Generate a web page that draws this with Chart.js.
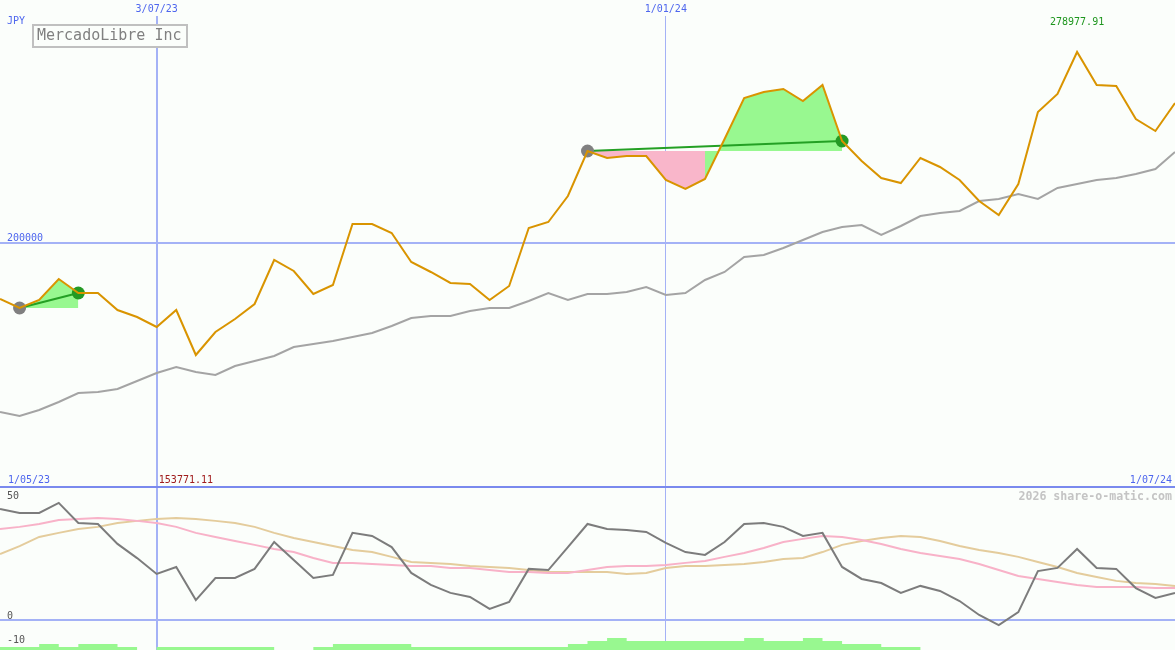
<!DOCTYPE html>
<html>
<head>
<meta charset="utf-8">
<title>MercadoLibre Inc</title>
<script src="https://cdn.jsdelivr.net/npm/chart.js@4.4.0/dist/chart.umd.min.js"></script>
<style>
html,body{margin:0;padding:0;background:#fbfefb;}
canvas{display:block;}
</style>
</head>
<body>
<canvas id="shareChart" width="1175" height="650"></canvas>
<script>
/* =====================================
   DATA (weekly, JPY)
===================================== */

const weeks = [
    "8/05/23","15/05/23","22/05/23","29/05/23","5/06/23","12/06/23","19/06/23","26/06/23",
    "3/07/23","10/07/23","17/07/23","24/07/23","31/07/23","7/08/23","14/08/23","21/08/23",
    "28/08/23","4/09/23","11/09/23","18/09/23","25/09/23","2/10/23","9/10/23","16/10/23",
    "23/10/23","30/10/23","6/11/23","13/11/23","20/11/23","27/11/23","4/12/23","11/12/23",
    "18/12/23","25/12/23","1/01/24","8/01/24","15/01/24","22/01/24","29/01/24","5/02/24",
    "12/02/24","19/02/24","26/02/24","4/03/24","11/03/24","18/03/24","25/03/24","1/04/24",
    "8/04/24","15/04/24","22/04/24","29/04/24","6/05/24","13/05/24","20/05/24","27/05/24",
    "3/06/24","10/06/24","17/06/24","24/06/24","1/07/24"
];

const price = [
    176918, 173199, 176504, 185182, 179397, 179397, 172372, 169480, 165348, 172372,
    153771.11, 163282, 168654, 174852, 193032, 188487, 178984, 182702, 207908, 207908,
    204189, 192206, 188074, 183529, 183116, 176504, 182289, 206255, 208734, 219477,
    238071, 235179, 236005, 236005, 226088, 222370, 226502, 243030, 259971, 262450,
    263690, 258731, 265342, 242203, 233939, 226915, 224849, 235179, 231460, 226088,
    217411, 211626, 224436, 254186, 261624, 278977.91, 265342, 264929, 251294, 246335,
    257905
];

const priceAvg = [
    130226, 128573, 131052, 134358, 138077, 138490, 139730, 143035, 146341, 148820,
    146754, 145514, 149233, 151299, 153365, 157084, 158324, 159563, 161216, 162869,
    165761, 169067, 169893, 169893, 171959, 173199, 173199, 176091, 179397, 176504,
    178984, 178984, 179810, 181876, 178570, 179397, 184768, 188074, 194272, 195098,
    197991, 201296, 204602, 206668, 207494, 203362, 207081, 211213, 212453, 213279,
    217411, 218238, 220304, 218238, 222783, 224436, 226088, 226915, 228568, 230634,
    237658
];

const osc = [
    46.3, 44.6, 44.6, 48.8, 40.4, 40.0, 31.7, 25.8, 19.2, 22.1,
    8.3, 17.5, 17.5, 21.3, 32.5, 25.0, 17.5, 18.8, 36.3, 35.0,
    30.4, 19.6, 14.6, 11.3, 9.6, 4.6, 7.5, 21.3, 20.8, 30.4,
    40.0, 37.9, 37.5, 36.7, 32.1, 28.3, 27.1, 32.5, 40.0, 40.4,
    38.8, 35.0, 36.3, 22.1, 17.1, 15.4, 11.3, 14.2, 12.1, 7.9,
    2.1, -2.1, 3.3, 20.4, 21.7, 29.6, 21.7, 21.3, 13.3, 9.2,
    11.3
];

const oscFast = [
    37.9, 38.8, 40.0, 41.7, 42.1, 42.5, 42.1, 41.3, 40.4, 38.8,
    36.3, 34.6, 32.9, 31.3, 29.6, 28.3, 25.8, 23.8, 23.8, 23.3,
    22.9, 22.5, 22.5, 21.7, 21.7, 20.8, 20.0, 20.0, 19.6, 19.6,
    20.8, 22.1, 22.5, 22.5, 22.9, 23.8, 24.6, 26.3, 27.9, 30.0,
    32.5, 33.8, 35.0, 34.6, 33.3, 31.7, 29.6, 27.9, 26.7, 25.4,
    23.3, 20.8, 18.3, 17.1, 15.8, 14.6, 13.8, 13.8, 13.8, 13.3,
    13.3
];

const oscSlow = [
    27.5, 30.8, 34.6, 36.3, 37.9, 38.8, 40.4, 41.3, 42.1, 42.5,
    42.1, 41.3, 40.4, 38.8, 36.3, 34.2, 32.5, 30.8, 29.2, 28.3,
    26.3, 24.2, 23.8, 23.3, 22.5, 22.1, 21.7, 20.8, 20.0, 20.0,
    20.0, 20.0, 19.2, 19.6, 21.7, 22.5, 22.5, 22.9, 23.3, 24.2,
    25.4, 25.8, 28.3, 31.3, 32.9, 34.2, 35.0, 34.6, 32.9, 30.8,
    29.2, 27.9, 26.3, 24.2, 22.1, 19.6, 17.9, 16.3, 15.4, 15.0,
    14.2
];

// strength level held from each week to the next
const strength = [
    1, 1, 2, 1, 2, 2, 1, 0, 1, 1,
    1, 1, 1, 1, 0, 0, 1, 2, 2, 2,
    2, 1, 1, 1, 1, 1, 1, 1, 1, 2,
    3, 4, 3, 3, 3, 3, 3, 3, 4, 3,
    3, 4, 3, 2, 2, 1, 1, 0, 0, 0,
    0, 0, 0, 0, 0, 0, 0, 0, 0, 0,
    0
];

// trades: entry week, exit week
const tradeEntries = ["15/05/23", "4/12/23"];
const tradeExits = ["5/06/23", "4/03/24"];

const markerDates = ["3/07/23", "1/01/24"];
const priceGrid = [200000];
const oscTicks = [50, 0, -10];

/* =====================================
   COLOURS
===================================== */

const BG = "#fbfefb";
const GRID = "#a4b2f6";
const DIVIDER = "#7a8aee";
const LABEL = "#4e66ee";
const GAIN = "#98f890";
const LOSS = "#f9b6ca";
const MONO = "'DejaVu Sans Mono', 'Liberation Mono', monospace";

/* =====================================
   TRADE DATASETS
===================================== */

function tradeDatasets(){

    const sets = [];

    tradeEntries.forEach((entryDate, t) => {

        const a = weeks.indexOf(entryDate);
        const b = weeks.indexOf(tradeExits[t]);
        const entry = price[a];

        sets.push({
            data: price.map((v, i) => (i >= a && i <= b) ? v : null),
            borderColor: "rgba(0,0,0,0)",
            borderWidth: 0,
            pointRadius: 0,
            fill: { value: entry },
            backgroundColor: GAIN,
            segment: {
                backgroundColor: c => c.p1.parsed.y >= entry ? GAIN : LOSS
            },
            order: 6
        });

        sets.push({
            data: price.map((v, i) => (i === a || i === b) ? v : null),
            spanGaps: true,
            borderColor: "#24a024",
            borderWidth: 2,
            pointRadius: c => c.raw == null ? 0 : 6.5,
            pointBorderWidth: 0,
            pointBackgroundColor: c => c.dataIndex === a ? "#808080" : "#249a24",
            order: 2
        });

    });

    return sets;

}

/* =====================================
   BACKGROUND, GRID & TEXT
===================================== */

const paperPlugin = {

    id: "paper",

    beforeDraw(chart){

        const ctx = chart.ctx;
        const x = chart.scales.x;
        const yP = chart.scales.y;
        const yO = chart.scales.yOsc;
        const W = chart.width;
        const H = chart.height;

        ctx.save();

        ctx.fillStyle = BG;
        ctx.fillRect(0, 0, W, H);

        const hline = (y, color) => {
            ctx.strokeStyle = color;
            ctx.lineWidth = 2;
            ctx.beginPath();
            ctx.moveTo(0, Math.round(y));
            ctx.lineTo(W, Math.round(y));
            ctx.stroke();
        };

        priceGrid.forEach(v => hline(yP.getPixelForValue(v), GRID));
        hline(yO.getPixelForValue(0), GRID);

        markerDates.forEach((d, i) => {
            const px = x.getPixelForValue(weeks.indexOf(d));
            ctx.strokeStyle = GRID;
            ctx.lineWidth = i === 0 ? 2 : 1;
            const xx = i === 0 ? Math.round(px) : Math.floor(px) + 0.5;
            ctx.beginPath();
            ctx.moveTo(xx, 16);
            ctx.lineTo(xx, H);
            ctx.stroke();
        });

        // panel divider
        hline(yO.getPixelForValue(55.4), DIVIDER);

        ctx.restore();

    },

    afterDraw(chart){

        const ctx = chart.ctx;
        const x = chart.scales.x;
        const yP = chart.scales.y;
        const yO = chart.scales.yOsc;
        const W = chart.width;

        ctx.save();
        ctx.textBaseline = "top";
        ctx.font = "10px " + MONO;

        // top labels
        ctx.fillStyle = LABEL;
        ctx.textAlign = "left";
        ctx.fillText("JPY", 7, 16);

        ctx.textAlign = "center";
        markerDates.forEach(d => {
            ctx.fillText(d, x.getPixelForValue(weeks.indexOf(d)), 4);
        });

        ctx.textAlign = "left";
        priceGrid.forEach(v => {
            ctx.fillText(String(v), 7, yP.getPixelForValue(v) - 10);
        });

        // high / low
        const hi = Math.max(...price);
        const lo = Math.min(...price);

        ctx.fillStyle = "#1e961e";
        ctx.textAlign = "center";
        ctx.fillText(hi.toFixed(2), x.getPixelForValue(price.indexOf(hi)), 17);

        ctx.fillStyle = "#a01c1c";
        ctx.textAlign = "left";
        ctx.fillText(lo.toFixed(2), x.getPixelForValue(price.indexOf(lo)) - 37, 475);

        // range dates
        ctx.fillStyle = LABEL;
        ctx.fillText("1/05/23", 8, 475);
        ctx.textAlign = "right";
        ctx.fillText(weeks[weeks.length - 1], W - 3, 475);

        // oscillator ticks
        ctx.fillStyle = "#555555";
        ctx.textAlign = "left";
        oscTicks.forEach(v => {
            ctx.fillText(String(v), 7, yO.getPixelForValue(v) - 9);
        });

        // watermark
        ctx.fillStyle = "#c4c4c4";
        ctx.textAlign = "right";
        ctx.font = "bold 11.6px " + MONO;
        ctx.fillText("2026 share-o-matic.com", W - 3, 491);

        // title box
        ctx.fillStyle = BG;
        ctx.fillRect(33, 25, 154, 22);
        ctx.strokeStyle = "#c0c0c0";
        ctx.lineWidth = 2;
        ctx.strokeRect(33, 25, 154, 22);
        ctx.fillStyle = "#808080";
        ctx.textAlign = "left";
        ctx.font = "15px " + MONO;
        ctx.fillText("MercadoLibre Inc", 37, 29);

        ctx.restore();

    }

};

/* =====================================
   CHART
===================================== */

document.addEventListener("DOMContentLoaded", () => {

    const ctx = document.getElementById("shareChart");

    new Chart(ctx, {

        type: "line",

        data: {

            labels: weeks,

            datasets: [

                {
                    data: price,
                    borderColor: "#d99400",
                    borderWidth: 2,
                    pointRadius: 0,
                    order: 1
                },

                ...tradeDatasets(),

                {
                    data: priceAvg,
                    borderColor: "#a4a4a4",
                    borderWidth: 2,
                    pointRadius: 0,
                    order: 3
                },

                {
                    data: oscFast,
                    yAxisID: "yOsc",
                    borderColor: "#f8b2c8",
                    borderWidth: 2,
                    pointRadius: 0,
                    order: 5
                },

                {
                    data: oscSlow,
                    yAxisID: "yOsc",
                    borderColor: "#e4cc9c",
                    borderWidth: 2,
                    pointRadius: 0,
                    order: 5
                },

                {
                    data: osc,
                    yAxisID: "yOsc",
                    borderColor: "#7c7c7c",
                    borderWidth: 2,
                    pointRadius: 0,
                    order: 4
                },

                {
                    data: strength,
                    yAxisID: "yBar",
                    stepped: "before",
                    borderWidth: 0,
                    borderColor: "rgba(0,0,0,0)",
                    pointRadius: 0,
                    fill: "origin",
                    backgroundColor: GAIN,
                    order: 7
                }

            ]

        },

        options: {

            responsive: false,
            animation: false,
            events: [],

            layout: { padding: 0 },

            plugins: {
                legend: { display: false },
                tooltip: { enabled: false }
            },

            scales: {

                x: {
                    type: "category",
                    display: false,
                    offset: false
                },

                y: {
                    display: false,
                    min: 31880,
                    max: 300465
                },

                yOsc: {
                    display: false,
                    min: -12.5,
                    max: 258.33
                },

                yBar: {
                    display: false,
                    min: 0,
                    max: 216.67
                }

            }

        },

        plugins: [paperPlugin]

    });

});
</script>
</body>
</html>
